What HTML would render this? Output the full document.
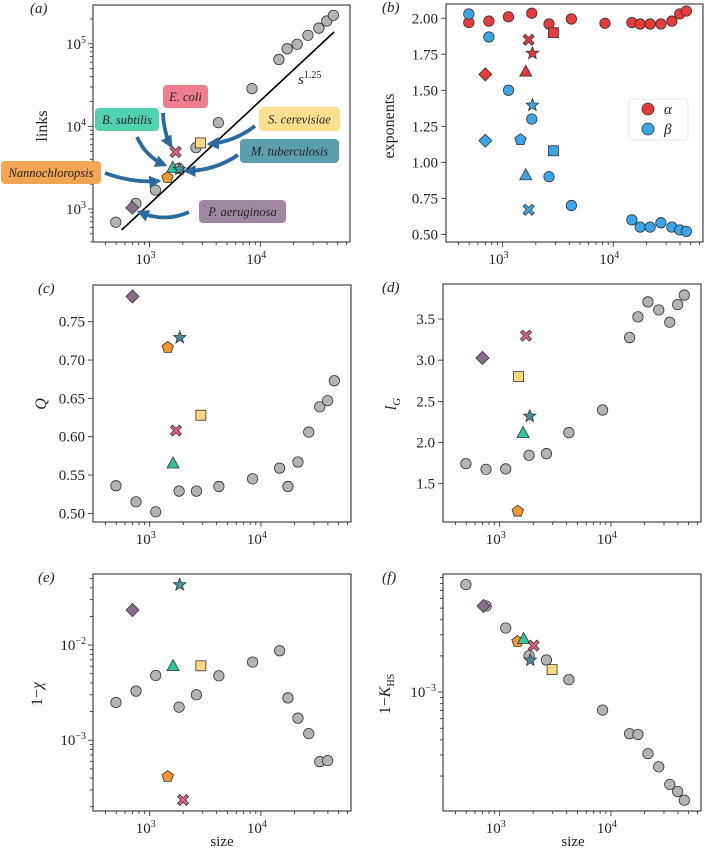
<!DOCTYPE html>
<html><head><meta charset="utf-8"><style>
html,body{margin:0;padding:0;background:#fff;}
svg{display:block;}
svg text{font-family:"Liberation Serif",serif;}
</style></head><body>
<svg id="fig" width="705" height="849" viewBox="0 0 705 849" xmlns="http://www.w3.org/2000/svg" font-family="Liberation Serif, serif">
<defs>
<marker id="ah" viewBox="0 0 10 10" refX="8" refY="5" markerWidth="3.2" markerHeight="3.2" orient="auto"><path d="M0,0 L10,5 L0,10 z" fill="#2a6aa3"/></marker>
</defs>
</svg>
<script>
// ---- data ----
const sizesLog = [2.696,2.877,3.054,3.264,3.42,3.622,3.925,4.168,4.243,4.333,4.43,4.529,4.6,4.66];
const specialNames = ["P. aeruginosa","Nannochloropsis","B. subtilis","E. coli","M. tuberculosis","S. cerevisiae"];
const specialShapes = ["diamond","pentagon","triangle","cross","star","square"];
const specialColors = ["#8a6d8c","#f0962e","#2cc79a","#e0617b","#4a8ea1","#fcd97c"];
const specialSizeLog = [2.845,3.162,3.21,3.236,3.27,3.46];
const linksLog = [2.84,3.067,3.228,3.49,3.742,4.045,4.457,4.81,4.94,4.994,5.103,5.19,5.276,5.345];
const linksSpecialLog = [3.015,3.385,3.5,3.69,3.487,3.8];
const alphaVals = [1.97,1.98,2.01,2.035,1.96,1.995,1.965,1.97,1.96,1.96,1.96,1.98,2.03,2.05];
const betaVals = [2.03,1.87,1.50,1.30,0.90,0.70,null,0.60,0.55,0.55,0.58,0.55,0.53,0.52];
const alphaSpecial = [1.61,null,1.63,1.85,1.76,1.90];
const betaSpecial = [1.15,1.16,0.91,0.67,1.40,1.08];
const qVals = [0.536,0.515,0.502,0.529,0.529,0.535,0.545,0.559,0.535,0.567,0.606,0.639,0.647,0.673];
const qSpecial = [0.783,0.717,0.565,0.608,0.730,0.628];
const lgVals = [1.743,1.675,1.68,1.845,1.865,2.12,2.395,3.274,3.526,3.708,3.61,3.461,3.675,3.79];
const lgSpecial = [3.027,1.172,2.116,3.298,2.326,2.80];
const lgSpecialSizeLog = [2.845,3.162,3.21,3.236,3.27,3.17];
const chiLog = [-2.603,-2.484,-2.319,-2.653,-2.523,-2.323,-2.179,-2.06,-2.555,-2.768,-2.93,-3.225,-3.214,null];
const chiSpecialLog = [-1.632,-3.376,-2.221,-3.628,-1.361,-2.218];
const chiSpecialSizeLog = [2.845,3.162,3.21,3.30,3.27,3.46];
const khsLog = [-2.105,-2.283,-2.467,-2.697,-2.733,-2.897,-3.15,-3.347,-3.353,-3.513,-3.622,-3.769,-3.828,-3.9];
const khsSpecialLog = [-2.283,-2.575,-2.558,-2.613,-2.73,-2.813];
const khsSpecialSizeLog = [2.854,3.16,3.215,3.305,3.275,3.471];
const fitExponent = 1.25;
const fitLogC = -0.69;

const NS="http://www.w3.org/2000/svg";
const svg=document.getElementById('fig');
const FF="Liberation Serif, serif";
function el(tag,attrs,parent){const e=document.createElementNS(NS,tag);for(const k in attrs)e.setAttribute(k,attrs[k]);if(tag==='text')e.setAttribute('font-family',FF);(parent||svg).appendChild(e);return e;}

const XD=[2.49,4.81];
function makePanel(p){
  const g=el('g',{});
  
  
  p.g=g;
  p.sx=v=>p.x0+(v-XD[0])/(XD[1]-XD[0])*(p.x1-p.x0);
  p.sy=v=>p.y1-(v-p.yd[0])/(p.yd[1]-p.yd[0])*(p.y1-p.y0);
  const fr=el('rect',{x:p.x0,y:p.y0,width:p.x1-p.x0,height:p.y1-p.y0,fill:'none',stroke:'#222','stroke-width':1},g);
  
  
  for(let d=2;d<=4;d++)for(let m=1;m<=9;m++){
    const v=d+Math.log10(m); if(v<XD[0]||v>XD[1])continue;
    const x=p.sx(v), major=m===1;
    el('line',{x1:x,x2:x,y1:p.y1,y2:p.y1+(major?5:3),stroke:'#222','stroke-width':0.8},g);
    if(major){const t=el('text',{x:x-4,y:p.y1+22,'font-size':15,'text-anchor':'middle',fill:'#222'},g);
      
      t.textContent='10';const s=el('tspan',{dy:-6,'font-size':10},t);s.textContent=String(d);}
  }
  if(p.ylog){
    for(let d=Math.floor(p.yd[0]);d<=Math.ceil(p.yd[1]);d++)for(let m=1;m<=9;m++){
      const v=d+Math.log10(m); if(v<p.yd[0]||v>p.yd[1])continue;
      const y=p.sy(v), major=m===1;
      el('line',{x1:p.x0,x2:p.x0-(major?5:3),y1:y,y2:y,stroke:'#222','stroke-width':0.8},g);
      if(major){const t=el('text',{x:p.x0-7,y:y+5,'font-size':15,'text-anchor':'end',fill:'#222'},g);
        
        t.textContent='10';const s=el('tspan',{dy:-6,'font-size':10},t);s.textContent=(d<0?'\u2212'+(-d):String(d));}
    }
  } else {
    p.yticks.forEach(v=>{
      const y=p.sy(v);
      el('line',{x1:p.x0,x2:p.x0-5,y1:y,y2:y,stroke:'#222','stroke-width':0.8},g);
      const t=el('text',{x:p.x0-8,y:y+5,'font-size':15,'text-anchor':'end',fill:'#222'},g);
      
      t.textContent=v.toFixed(p.dec);
    });
  }
  const lab=el('text',{x:p.lx,y:p.y0+8,'font-size':15,'font-style':'italic',fill:'#222'},g);
  
  lab.textContent='('+p.id+')';
  return p;
}
function marker(p,shape,x,y,fill,name){
  let e;
  const a={fill:fill,stroke:'#333','stroke-width':0.8};
  if(shape==='circle'){e=el('circle',Object.assign({cx:x,cy:y,r:5.2},a),p.g);}
  else if(shape==='square'){e=el('rect',Object.assign({x:x-5,y:y-5,width:10,height:10},a),p.g);}
  else {
    let pts=[];
    if(shape==='diamond')pts=[[0,-6.5],[6.5,0],[0,6.5],[-6.5,0]];
    else if(shape==='triangle')pts=[[0,-6.5],[6,4.5],[-6,4.5]];
    else if(shape==='pentagon'){for(let i=0;i<5;i++){const t=-Math.PI/2+i*2*Math.PI/5;pts.push([6*Math.cos(t),6*Math.sin(t)+0.5]);}}
    else if(shape==='star'){for(let i=0;i<10;i++){const t=-Math.PI/2+i*Math.PI/5,rr=i%2?2.8:6.5;pts.push([rr*Math.cos(t),rr*Math.sin(t)+0.5]);}}
    else if(shape==='cross'){const s=2.2,l=5.5;[[0,-s],[l-s,-l],[l,-l+s],[s,0],[l,l-s],[l-s,l],[0,s],[-l+s,l],[-l,l-s],[-s,0],[-l,-l+s],[-l+s,-l]].forEach(q=>pts.push(q));}
    e=el('polygon',Object.assign({points:pts.map(q=>(x+q[0])+','+(y+q[1])).join(' ')},a),p.g);
  }
  
  
  return e;
}
function greys(p,vals){vals.forEach((v,i)=>{if(v===null)return;marker(p,'circle',p.sx(sizesLog[i]),p.sy(v),'#b4b4b4','point-network');});}
function specials(p,vals,xs,colors){vals.forEach((v,i)=>{if(v===null)return;marker(p,specialShapes[i],p.sx(xs[i]),p.sy(v),colors?colors:specialColors[i],'point-'+specialShapes[i]);});}
function ylabel(x,y,name){const t=el('text',{x:x,y:y,'font-size':16,'text-anchor':'middle',fill:'#222',transform:'rotate(-90 '+x+' '+y+')'});return t;}

// panel a
const A=makePanel({id:'a',x0:93,x1:350,y0:5,y1:242,ylog:true,yd:[2.6,5.47],lx:30});
{ const xs=[Math.log10(560),4.665];
  const ln=el('line',{x1:A.sx(xs[0]),y1:A.sy(fitLogC+fitExponent*xs[0]),x2:A.sx(xs[1]),y2:A.sy(fitLogC+fitExponent*xs[1]),stroke:'#000','stroke-width':1.6},A.g);
  
  const t=el('text',{x:298,y:84,'font-size':15,'font-style':'italic',fill:'#222'},A.g);
  t.textContent='s';const s=el('tspan',{dy:-6,'font-size':10,'font-style':'normal'},t);s.textContent='1.25';
}
greys(A,linksLog);
specials(A,linksSpecialLog,specialSizeLog);
const boxes=[
 ['P. aeruginosa',199,200,87,23,'#9e87a0',[[189,212],[165,223],[139,212]]],
 ['Nannochloropsis',1,161,100,23,'#f2a552',[[105,173],[132,183],[159,181]]],
 ['B. subtilis',95,108,64,23,'#52d3b0',[[137,137],[146,157],[165,165]]],
 ['E. coli',163,85,45,23,'#f07d8e',[[163,113],[164,134],[171,146]]],
 ['M. tuberculosis',240,139,99,24,'#5b9eae',[[238,155],[214,171],[186,171]]],
 ['S. cerevisiae',259,107,81,24,'#fde08f',[[255,126],[234,142],[209,144]]]
];
boxes.forEach(b=>{
  const pth=el('path',{d:`M${b[6][0][0]},${b[6][0][1]} Q${b[6][1][0]},${b[6][1][1]} ${b[6][2][0]},${b[6][2][1]}`,fill:'none',stroke:'#2a6aa3','stroke-width':3.8,'marker-end':'url(#ah)'},A.g);
  
});
boxes.forEach(b=>{
  const r=el('rect',{x:b[1],y:b[2],width:b[3],height:b[4],rx:4,fill:b[5]},A.g);
  
  const t=el('text',{x:b[1]+b[3]/2,y:b[2]+b[4]/2+4.5,'font-size':12.5,'font-style':'italic','text-anchor':'middle',fill:'#222'},A.g);
  
  t.textContent=b[0];
});
ylabel(47,126,'y-axis-title').textContent='links';

// panel b
const B=makePanel({id:'b',x0:446,x1:703,y0:4,y1:242,ylog:false,yd:[0.4465,2.099],yticks:[0.5,0.75,1.0,1.25,1.5,1.75,2.0],dec:2,lx:382});
alphaVals.forEach((v,i)=>{marker(B,'circle',B.sx(sizesLog[i]),B.sy(v),'#e8393b','point-alpha');});
betaVals.forEach((v,i)=>{if(v===null)return;marker(B,'circle',B.sx(sizesLog[i]),B.sy(v),'#3aa5e8','point-beta');});
specials(B,alphaSpecial,specialSizeLog,'#e8393b');
specials(B,betaSpecial,specialSizeLog,'#3aa5e8');
{ const lg=el('g',{}); 
  el('rect',{x:629,y:99,width:59,height:41,rx:3,fill:'#fff',stroke:'#ddd','stroke-width':0.8},lg);
  const c1=el('circle',{cx:648,cy:109,r:6,fill:'#e8393b',stroke:'#333','stroke-width':0.8},lg);
  const c2=el('circle',{cx:648,cy:129,r:6,fill:'#3aa5e8',stroke:'#333','stroke-width':0.8},lg);
  const t1=el('text',{x:664,y:114,'font-size':15,'font-style':'italic',fill:'#222'},lg);t1.textContent='\u03b1';
  const t2=el('text',{x:664,y:134,'font-size':15,'font-style':'italic',fill:'#222'},lg);t2.textContent='\u03b2';
}
ylabel(394,126,'y-axis-title').textContent='exponents';

// panel c
const C=makePanel({id:'c',x0:93,x1:351,y0:285,y1:522,ylog:false,yd:[0.4887,0.7979],yticks:[0.5,0.55,0.6,0.65,0.7,0.75],dec:2,lx:38});
greys(C,qVals);specials(C,qSpecial,specialSizeLog);
{const t=ylabel(46,404,'y-axis-title');t.setAttribute('font-style','italic');t.textContent='Q';}

// panel d
const D=makePanel({id:'d',x0:443,x1:701,y0:284,y1:522,ylog:false,yd:[1.035,3.925],yticks:[1.5,2.0,2.5,3.0,3.5],dec:1,lx:382});
greys(D,lgVals);specials(D,lgSpecial,lgSpecialSizeLog);
{const t=ylabel(396,404,'y-axis-title');t.setAttribute('font-style','italic');t.textContent='l';const s=el('tspan',{dy:4,'font-size':11},t);s.textContent='G';}

// panel e
const E=makePanel({id:'e',x0:93,x1:351,y0:574,y1:811,ylog:true,yd:[-3.744,-1.253],lx:38});
greys(E,chiLog);specials(E,chiSpecialLog,chiSpecialSizeLog);
{const t=ylabel(42,694,'y-axis-title');t.textContent='1\u2212';const s=el('tspan',{'font-style':'italic'},t);s.textContent='\u03c7';}

// panel f
const F=makePanel({id:'f',x0:443,x1:701,y0:574,y1:811,ylog:true,yd:[-3.99,-2.017],lx:382});
greys(F,khsLog);specials(F,khsSpecialLog,khsSpecialSizeLog);
{const t=ylabel(390,694,'y-axis-title');t.textContent='1\u2212';const s=el('tspan',{'font-style':'italic'},t);s.textContent='K';const s2=el('tspan',{dy:4,'font-size':10},t);s2.textContent='HS';}

[[222,'x-axis-title-e'],[573,'x-axis-title-f']].forEach(a=>{const t=el('text',{x:a[0],y:846,'font-size':15,'text-anchor':'middle',fill:'#222'});t.textContent='size';});
</script>
</body></html>
